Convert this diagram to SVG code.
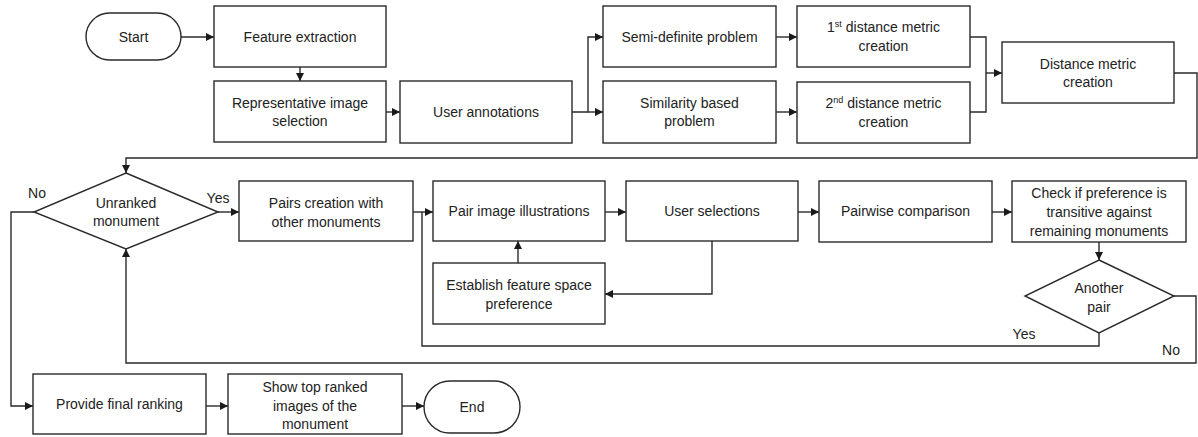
<svg xmlns="http://www.w3.org/2000/svg" width="1198" height="437" viewBox="0 0 1198 437">
<defs>
<marker id="arr" viewBox="0 0 10 10" refX="10" refY="5" markerWidth="9" markerHeight="8" markerUnits="userSpaceOnUse" orient="auto">
<path d="M0,0 L10,5 L0,10 z" fill="#1a1a1a"/>
</marker>
<style>
.n{fill:#fff;stroke:#2a2a2a;stroke-width:1.4}
.t{font-family:"Liberation Sans",Arial,sans-serif;font-size:14px;fill:#222;text-anchor:middle}
.l{font-family:"Liberation Sans",Arial,sans-serif;font-size:14px;fill:#222;text-anchor:middle}
.c{fill:none;stroke:#2a2a2a;stroke-width:1.4}
.a{marker-end:url(#arr)}
.sup{font-size:9px}
</style>
</defs>
<rect width="1198" height="437" fill="#fff"/>

<g id="connectors">
<path class="c a" d="M181,37 H214"/>
<path class="c a" d="M300,67 V81"/>
<path class="c a" d="M386,112 H400"/>
<path class="c a" d="M572,112 H588 V37 H603"/>
<path class="c a" d="M588,112 H603"/>
<path class="c a" d="M776,37 H797"/>
<path class="c a" d="M776,112 H797"/>
<path class="c" d="M970,37 H986 V112 H970"/>
<path class="c a" d="M986,73 H1002"/>
<path class="c a" d="M1174,73 H1197 V158 H126 V173"/>
<path class="c a" d="M218,212 H239"/>
<path class="c a" d="M413,212 H433"/>
<path class="c a" d="M605,212 H626"/>
<path class="c a" d="M798,212 H819"/>
<path class="c a" d="M992,212 H1012"/>
<path class="c a" d="M1099,242 V260"/>
<path class="c" d="M1099,333 V346 H422 V212"/>
<path class="c a" d="M1174,296 H1196 V363 H126 V249"/>
<path class="c a" d="M712,241 V294 H605"/>
<path class="c a" d="M518,263 V241"/>
<path class="c a" d="M34,212 H11 V406 H33"/>
<path class="c a" d="M206,406 H228"/>
<path class="c a" d="M402,406 H424"/>
<text class="l" x="37" y="198">No</text>
<text class="l" x="218" y="203">Yes</text>
<text class="l" x="1024" y="339">Yes</text>
<text class="l" x="1171" y="355">No</text>
</g>

<g id="start">
<rect class="n" x="86" y="13" width="95" height="47" rx="23.5"/>
<text class="t" x="133.5" y="41.5">Start</text>
</g>
<g id="feature-extraction">
<rect class="n" x="214" y="6" width="172" height="61"/>
<text class="t" x="300" y="41.5">Feature extraction</text>
</g>
<g id="representative">
<rect class="n" x="214" y="81" width="172" height="61"/>
<text class="t" x="300" y="108">Representative image</text>
<text class="t" x="300" y="126">selection</text>
</g>
<g id="user-annotations">
<rect class="n" x="400" y="81" width="172" height="62"/>
<text class="t" x="486" y="117">User annotations</text>
</g>
<g id="semi-definite">
<rect class="n" x="603" y="6" width="173" height="61"/>
<text class="t" x="689.5" y="41.5">Semi-definite problem</text>
</g>
<g id="similarity">
<rect class="n" x="603" y="81" width="173" height="62"/>
<text class="t" x="689.5" y="108">Similarity based</text>
<text class="t" x="689.5" y="126">problem</text>
</g>
<g id="dm1">
<rect class="n" x="797" y="6" width="173" height="61"/>
<text class="t" x="883.5" y="32">1<tspan class="sup" dy="-5">st</tspan><tspan dy="5"> distance metric</tspan></text>
<text class="t" x="883.5" y="51">creation</text>
</g>
<g id="dm2">
<rect class="n" x="797" y="82" width="173" height="61"/>
<text class="t" x="883.5" y="108">2<tspan class="sup" dy="-5">nd</tspan><tspan dy="5"> distance metric</tspan></text>
<text class="t" x="883.5" y="127">creation</text>
</g>
<g id="distance-metric">
<rect class="n" x="1002" y="42" width="172" height="61"/>
<text class="t" x="1088" y="68.5">Distance metric</text>
<text class="t" x="1088" y="87">creation</text>
</g>
<g id="unranked">
<polygon class="n" points="126,173 218,212 126,249 34,212"/>
<text class="t" x="126" y="208">Unranked</text>
<text class="t" x="126" y="226">monument</text>
</g>
<g id="pairs-creation">
<rect class="n" x="239" y="181" width="174" height="60"/>
<text class="t" x="326" y="208">Pairs creation with</text>
<text class="t" x="326" y="227">other monuments</text>
</g>
<g id="pair-image">
<rect class="n" x="433" y="181" width="172" height="60"/>
<text class="t" x="519" y="216">Pair image illustrations</text>
</g>
<g id="user-selections">
<rect class="n" x="626" y="181" width="172" height="60"/>
<text class="t" x="712" y="216">User selections</text>
</g>
<g id="pairwise">
<rect class="n" x="819" y="181" width="173" height="61"/>
<text class="t" x="905.5" y="216">Pairwise comparison</text>
</g>
<g id="check">
<rect class="n" x="1012" y="181" width="174" height="61"/>
<text class="t" x="1099" y="198">Check if preference is</text>
<text class="t" x="1099" y="217">transitive against</text>
<text class="t" x="1099" y="236">remaining monuments</text>
</g>
<g id="establish">
<rect class="n" x="433" y="263" width="172" height="61"/>
<text class="t" x="519" y="290">Establish feature space</text>
<text class="t" x="519" y="309">preference</text>
</g>
<g id="another-pair">
<polygon class="n" points="1099,260 1174,296 1099,333 1025,296"/>
<text class="t" x="1099" y="293">Another</text>
<text class="t" x="1099" y="312">pair</text>
</g>
<g id="final-ranking">
<rect class="n" x="33" y="374" width="173" height="60"/>
<text class="t" x="119.5" y="409">Provide final ranking</text>
</g>
<g id="show-top">
<rect class="n" x="228" y="374" width="174" height="60"/>
<text class="t" x="315" y="392">Show top ranked</text>
<text class="t" x="315" y="410.5">images of the</text>
<text class="t" x="315" y="429">monument</text>
</g>
<g id="end">
<rect class="n" x="424" y="381" width="96" height="52" rx="26"/>
<text class="t" x="472" y="412">End</text>
</g>
</svg>
